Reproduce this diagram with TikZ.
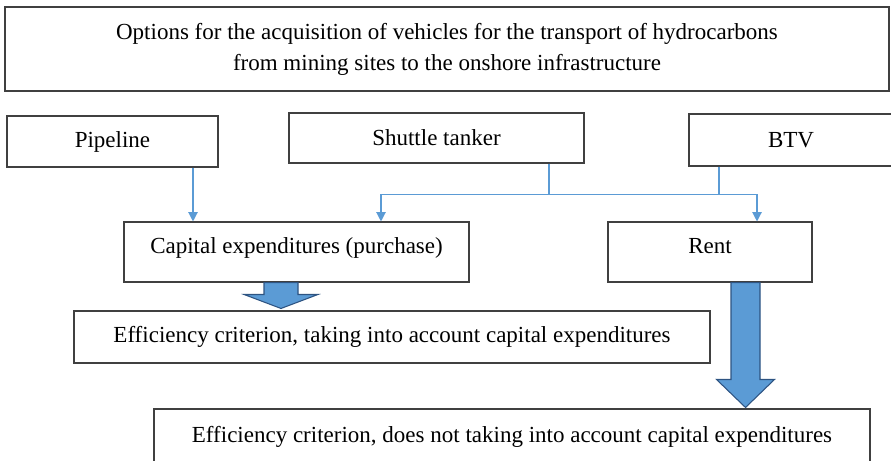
\documentclass[tikz,border=0pt]{standalone}
\usepackage{fontspec}
\setmainfont{Liberation Serif}
\usepackage{xcolor}
\usepackage{tikz}
\usetikzlibrary{arrows.meta, positioning, calc}
\definecolor{linkblue}{RGB}{91,155,213}
\definecolor{edgeblue}{RGB}{46,84,130}
\definecolor{boxgray}{RGB}{64,64,64}

\begin{document}
\begin{tikzpicture}[
    x=0.75pt, y=-0.75pt,
    box/.style={draw=boxgray, line width=0.8pt, align=center, inner sep=0pt, font=\fontsize{17.25}{23.25}\selectfont},
    raised/.style={text height=12pt, text depth=9.5pt},
    link/.style={draw=linkblue, line width=0.9pt},
    arrow/.style={link, -{Triangle[length=7pt, width=7pt]}},
    fat/.style={fill=linkblue, draw=edgeblue, line width=0.8pt, line join=miter}
]
\useasboundingbox (0,0) rectangle (891,460);
\clip (0,0) rectangle (891,460);

% Top
\node[box, minimum width=663pt, minimum height=63pt] (title) at (447,49) {Options for the acquisition of vehicles for the transport of hydrocarbons\\from mining sites to the onshore infrastructure};

% Vehicles
\node[box, minimum width=158.25pt, minimum height=38.25pt] (pipe) at (112.5,141.5) {Pipeline};
\node[box, minimum width=221.25pt, minimum height=37.5pt] (shuttle) at (436.5,138) {Shuttle tanker};
\node[box, minimum width=153pt, minimum height=39pt] (btv) at (791,140) {BTV};

% Ways of acquisition
\node[box, raised, minimum width=258.75pt, minimum height=45pt] (capex) at (296.5,252) {Capital expenditures (purchase)};
\node[box, raised, minimum width=153pt, minimum height=45pt] (rent) at (710,252) {Rent};

% Criteria
\node[box, minimum width=477pt, minimum height=39pt] (effcap) at (392,337) {Efficiency criterion, taking into account capital expenditures};
\node[box, minimum width=537pt, minimum height=42pt] (effnocap) at (512,437) {Efficiency criterion, does not taking into account capital expenditures};

% Thin connectors
\coordinate (p1) at ($(pipe.south)+(80.5,0)$);
\coordinate (s1) at ($(shuttle.south)+(112.5,0)$);
\coordinate (b1) at ($(btv.south)+(-72,0)$);
\coordinate (bus) at ($(s1)+(0,31)$);
\coordinate (c1) at ($(capex.north)+(84.5,0)$);
\coordinate (r1) at ($(rent.north)+(47,0)$);
\draw[arrow] (p1) -- (p1 |- capex.north);
\draw[link] (s1) -- (bus);
\draw[link] (b1) -- (b1 |- bus);
\draw[arrow] (bus) -| (c1);
\draw[arrow] (bus) -| (r1);

% Block arrows
\coordinate (a1) at ($(capex.south)+(-15.5,0)$);
\coordinate (a1tip) at ($(a1 |- effcap.north)+(0,-2)$);
\draw[fat] ($(a1)+(-17,0)$) -- ($(a1tip)+(-17,-14)$) -- ($(a1tip)+(-37,-14)$) -- (a1tip)
    -- ($(a1tip)+(37,-14)$) -- ($(a1tip)+(17,-14)$) -- ($(a1)+(17,0)$) -- cycle;
\coordinate (a2) at ($(rent.south)+(35.5,0)$);
\coordinate (a2tip) at ($(a2 |- effnocap.north)+(0,-1)$);
\draw[fat] ($(a2)+(-14.5,0)$) -- ($(a2tip)+(-14.5,-28)$) -- ($(a2tip)+(-29,-28)$) -- (a2tip)
    -- ($(a2tip)+(29,-28)$) -- ($(a2tip)+(14.5,-28)$) -- ($(a2)+(14.5,0)$) -- cycle;

\end{tikzpicture}
\end{document}
